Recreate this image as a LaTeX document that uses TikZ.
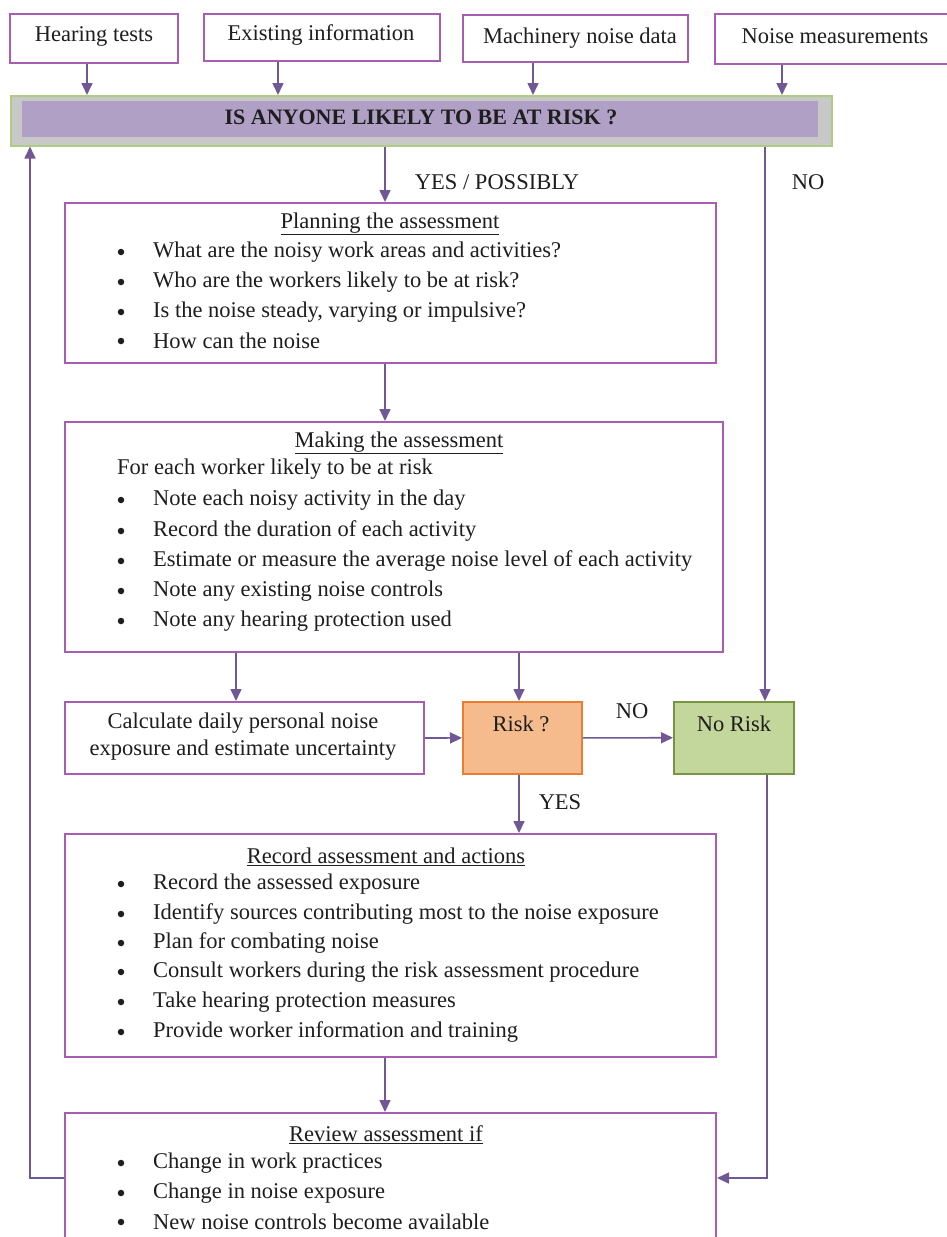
\documentclass[tikz,border=0pt]{standalone}
\usepackage{fontspec}
\setmainfont{Liberation Serif}
\usetikzlibrary{arrows.meta,calc}
\definecolor{boxline}{RGB}{168,92,178}
\definecolor{arrowc}{RGB}{112,88,150}
\definecolor{txt}{RGB}{30,30,30}
\definecolor{bannergrey}{RGB}{200,200,200}
\definecolor{bannergreen}{RGB}{175,205,130}
\definecolor{bannerpurple}{RGB}{176,160,198}
\definecolor{riskfill}{RGB}{246,187,140}
\definecolor{riskline}{RGB}{234,125,50}
\definecolor{okfill}{RGB}{195,214,155}
\definecolor{okline}{RGB}{120,150,65}
\tikzset{
  bx/.style={draw=boxline, line width=2pt, fill=white, anchor=north west, inner sep=0pt},
  arr/.style={draw=arrowc, line width=1.6pt, -{Triangle[length=12pt,width=11pt]}},
  tx/.style={text=txt, font=\fontsize{22.5}{27}\selectfont, inner sep=0pt},
  lt/.style={tx, anchor=west},
  bul/.style={circle, fill=txt, inner sep=0pt, minimum size=6.5pt},
  ttl/.style={tx, anchor=center},
}
\newcommand{\ul}[1]{\underline{#1}}
\begin{document}
\begin{tikzpicture}[x=1pt,y=-1pt]
\useasboundingbox (0,0) rectangle (947,1237);
\fill[white] (0,0) rectangle (947,1237);
% top boxes
\node[bx, minimum width=168, minimum height=49] (hear) at (9,13) {};
\node[tx] (hearT) at (94,36) {Hearing tests};
\node[bx, minimum width=236, minimum height=47] (exist) at (203,13) {};
\node[tx] (existT) at (321,35) {Existing information};
\node[bx, minimum width=225, minimum height=47] (mach) at (462,14) {};
\node[tx] (machT) at (580,38) {Machinery noise data};
\node[bx, minimum width=250, minimum height=50] (meas) at (714,13) {};
\node[tx] (measT) at (835,36) {Noise measurements};
% banner
\node[draw=bannergreen, line width=1.5pt, fill=bannergrey, anchor=north west, minimum width=821, minimum height=50, inner sep=0pt] (banner) at (10,95) {};
\node[fill=bannerpurple, anchor=north west, minimum width=796, minimum height=36, inner sep=0pt] (bannerin) at (22,101) {};
\node[tx, font=\fontsize{22}{26}\selectfont\bfseries] (bannerT) at (421,117) {IS ANYONE LIKELY TO BE AT RISK ?};
% planning
\node[bx, minimum width=651, minimum height=160] (plan) at (64,202) {};
\node[ttl] (planT) at (390,224) {\ul{Planning the assessment}};
\node[bul] (pb1) at (121,252) {};
\node[lt] (p1) at (153,252) {What are the noisy work areas and activities?};
\node[bul] (pb2) at (121,282) {};
\node[lt] (p2) at (153,282) {Who are the workers likely to be at risk?};
\node[bul] (pb3) at (121,312) {};
\node[lt] (p3) at (153,312) {Is the noise steady, varying or impulsive?};
\node[bul] (pb4) at (121,341) {};
\node[lt] (p4) at (153,341) {How can the noise};
% making
\node[bx, minimum width=658, minimum height=230] (make) at (64,421) {};
\node[ttl] (makeT) at (399,443) {\ul{Making the assessment}};
\node[lt] (m0) at (117,469) {For each worker likely to be at risk};
\node[bul] (mb1) at (121,500) {};
\node[lt] (m1) at (153,500) {Note each noisy activity in the day};
\node[bul] (mb2) at (121,531) {};
\node[lt] (m2) at (153,531) {Record the duration of each activity};
\node[bul] (mb3) at (121,561) {};
\node[lt] (m3) at (153,561) {Estimate or measure the average noise level of each activity};
\node[bul] (mb4) at (121,591) {};
\node[lt] (m4) at (153,591) {Note any existing noise controls};
\node[bul] (mb5) at (121,621) {};
\node[lt] (m5) at (153,621) {Note any hearing protection used};
% calc / risk / no risk
\node[bx, minimum width=359, minimum height=72] (calc) at (64,701) {};
\node[tx, align=center] (calcT) at (243,737) {Calculate daily personal noise\\exposure and estimate uncertainty};
\node[draw=riskline, fill=riskfill, line width=1.8pt, anchor=north west, minimum width=119, minimum height=72, inner sep=0pt] (risk) at (462,701) {};
\node[tx] (riskT) at (521,724) {Risk ?};
\node[draw=okline, fill=okfill, line width=1.5pt, anchor=north west, minimum width=120, minimum height=72, inner sep=0pt] (norisk) at (673,701) {};
\node[tx] (noriskT) at (734,724) {No Risk};
% record
\node[bx, minimum width=651, minimum height=223] (rec) at (64,833) {};
\node[ttl] (recT) at (386,857) {\ul{Record assessment and actions}};
\node[bul] (rb1) at (121,884) {};
\node[lt] (r1) at (153,884) {Record the assessed exposure};
\node[bul] (rb2) at (121,914) {};
\node[lt] (r2) at (153,914) {Identify sources contributing most to the noise exposure};
\node[bul] (rb3) at (121,943) {};
\node[lt] (r3) at (153,943) {Plan for combating noise};
\node[bul] (rb4) at (121,972) {};
\node[lt] (r4) at (153,972) {Consult workers during the risk assessment procedure};
\node[bul] (rb5) at (121,1002) {};
\node[lt] (r5) at (153,1002) {Take hearing protection measures};
\node[bul] (rb6) at (121,1032) {};
\node[lt] (r6) at (153,1032) {Provide worker information and training};
% review
\node[bx, minimum width=651, minimum height=150] (rev) at (64,1112) {};
\node[ttl] (revT) at (386,1135) {\ul{Review assessment if}};
\node[bul] (vb1) at (121,1163) {};
\node[lt] (v1) at (153,1163) {Change in work practices};
\node[bul] (vb2) at (121,1193) {};
\node[lt] (v2) at (153,1193) {Change in noise exposure};
\node[bul] (vb3) at (121,1222) {};
\node[lt] (v3) at (153,1222) {New noise controls become available};
% labels
\node[tx] (yesposs) at (497,182) {YES / POSSIBLY};
\node[tx] (no1) at (808,182) {NO};
\node[tx] (no2) at (632,711) {NO};
\node[tx] (yes2) at (560,802) {YES};
% coordinates
\coordinate (hx) at (87,0);
\coordinate (ex) at (278,0);
\coordinate (mx) at (533,0);
\coordinate (nx) at (782,0);
\coordinate (px) at (385,0);
\coordinate (nrx) at (765,0);
\coordinate (cx) at (236,0);
\coordinate (rx) at (519,0);
\coordinate (lb) at (30,1178);
\coordinate (rb) at (767,1178);
% connectors
\draw[arr] (hear.south -| hx) -- (banner.north -| hx);
\draw[arr] (exist.south -| ex) -- (banner.north -| ex);
\draw[arr] (mach.south -| mx) -- (banner.north -| mx);
\draw[arr] (meas.south -| nx) -- (banner.north -| nx);
\draw[arr] (banner.south -| px) -- (plan.north -| px);
\draw[arr] (banner.south -| nrx) -- (norisk.north -| nrx);
\draw[arr] (plan.south -| px) -- (make.north -| px);
\draw[arr] (make.south -| cx) -- (calc.north -| cx);
\draw[arr] (make.south -| rx) -- (risk.north -| rx);
\draw[arr] (calc.east) -- (risk.west);
\draw[arr] (risk.east) -- (norisk.west);
\draw[arr] (risk.south -| rx) -- (rec.north -| rx);
\draw[arr] (rec.south -| px) -- (rev.north -| px);
\draw[arr] (rev.west |- lb) -- (lb) -- (banner.south -| lb);
\draw[arr] (norisk.south -| rb) -- (rb) -- (rev.east |- rb);
\end{tikzpicture}
\end{document}
